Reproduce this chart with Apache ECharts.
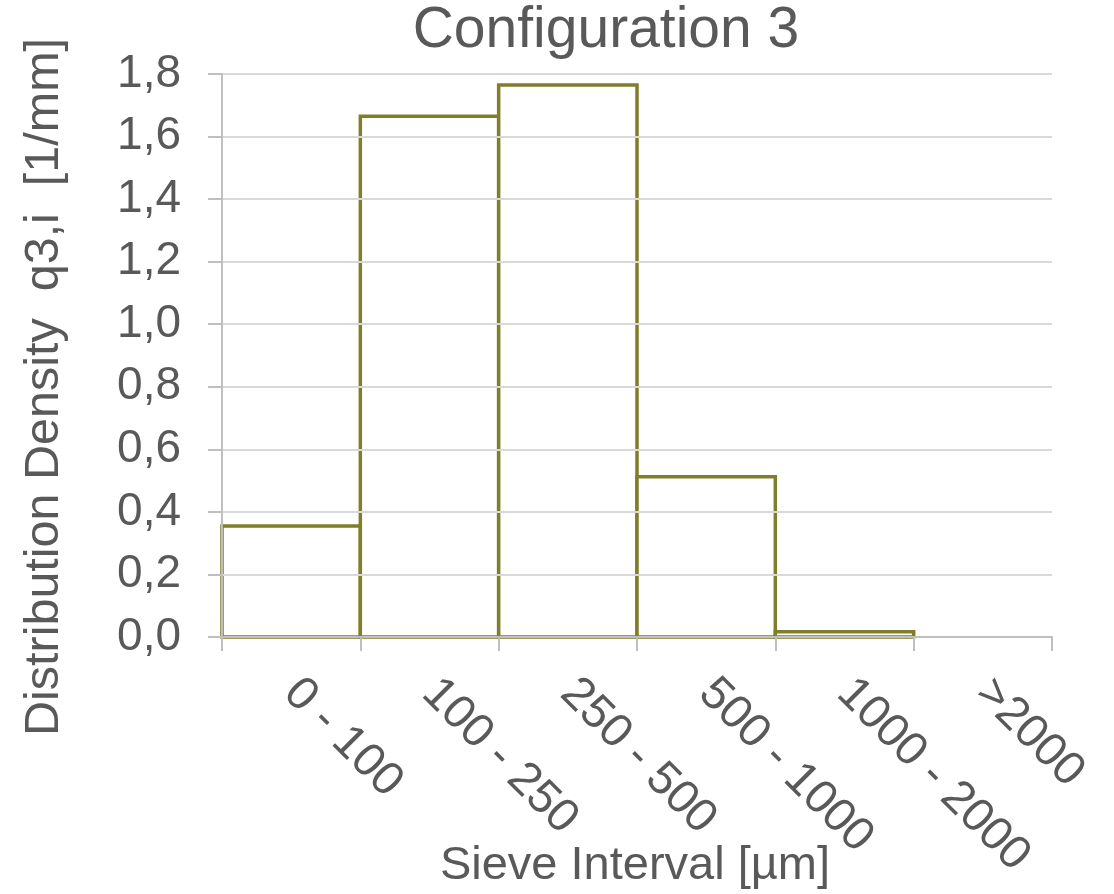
<!DOCTYPE html>
<html>
<head>
<meta charset="utf-8">
<title>Configuration 3</title>
<script src="https://cdn.jsdelivr.net/npm/echarts@6/dist/echarts.min.js"></script>
<style>
  html, body { margin: 0; padding: 0; background: #ffffff; }
  #chart { width: 1114px; height: 894px; }
</style>
</head>
<body>
<div id="chart"></div>
<script>
// Sieve intervals and measured distribution density q3,i
const categories = ['0 - 100', '100 - 250', '250 - 500', '500 - 1000', '1000 - 2000', '>2000'];
const densityValues = [0.355, 1.665, 1.765, 0.512, 0.017, 0];
const yTicks = { min: 0, max: 1.8, interval: 0.2 };

const chartTitle = 'Configuration 3';
const xTitle = 'Sieve Interval [\u00b5m]';
const yTitle = 'Distribution Density  q3,i  [1/mm]';

const FONT = '"Liberation Sans", Arial, sans-serif';
const TEXT = '#595959';
const AXIS = '#bfbfbf';
const GRID = '#d9d9d9';
const BAR = '#807e2a';

// Histogram columns: each fills its whole category band, outlined with a
// centred stroke so neighbouring columns share one edge line.
function renderColumn(params, api) {
  const idx = api.value(0);
  const v = api.value(1);
  if (!(v > 0)) return null;
  const top = api.coord([idx, v]);
  const size = api.size([1, v]);
  return {
    type: 'rect',
    shape: { x: top[0] - size[0] / 2, y: top[1], width: size[0], height: size[1] },
    style: { fill: '#ffffff', stroke: BAR, lineWidth: 3.5 }
  };
}

const chart = echarts.init(document.getElementById('chart'), null, { renderer: 'canvas' });

chart.setOption({
  animation: false,
  backgroundColor: '#ffffff',
  grid: { left: 222, right: 62, top: 74, bottom: 257, containLabel: false },
  xAxis: {
    type: 'category',
    data: categories,
    boundaryGap: true,
    z: 5,
    axisLine: { show: true, lineStyle: { color: AXIS, width: 2 } },
    axisTick: { show: true, length: 14, lineStyle: { color: AXIS, width: 2 } },
    axisLabel: {
      interval: 0,
      rotate: -45,
      margin: 49,
      color: TEXT,
      fontFamily: FONT,
      fontSize: 47
    },
    splitLine: { show: false }
  },
  yAxis: {
    type: 'value',
    min: yTicks.min,
    max: yTicks.max,
    interval: yTicks.interval,
    z: 5,
    axisLine: { show: true, lineStyle: { color: AXIS, width: 2 } },
    axisTick: { show: true, length: 14, lineStyle: { color: AXIS, width: 2 } },
    axisLabel: {
      margin: 41,
      color: TEXT,
      fontFamily: FONT,
      fontSize: 46,
      formatter: v => v.toFixed(1).replace('.', ',')
    },
    splitLine: { show: true, lineStyle: { color: GRID, width: 2 } }
  },
  series: [{
    type: 'custom',
    renderItem: renderColumn,
    encode: { x: 0, y: 1 },
    clip: false,
    z: 2,
    data: densityValues.map((v, i) => [i, v])
  }],
  graphic: [
    {
      type: 'text', x: 606, y: 31,
      style: { text: chartTitle, fill: TEXT, font: '57px ' + FONT, align: 'center', verticalAlign: 'middle' }
    },
    {
      type: 'text', x: 635, y: 866,
      style: { text: xTitle, fill: TEXT, font: '47px ' + FONT, align: 'center', verticalAlign: 'middle' }
    },
    {
      type: 'text', x: 45, y: 387, rotation: Math.PI / 2,
      style: { text: yTitle, fill: TEXT, font: '48.5px ' + FONT, align: 'center', verticalAlign: 'middle' }
    }
  ]
});
</script>
</body>
</html>
